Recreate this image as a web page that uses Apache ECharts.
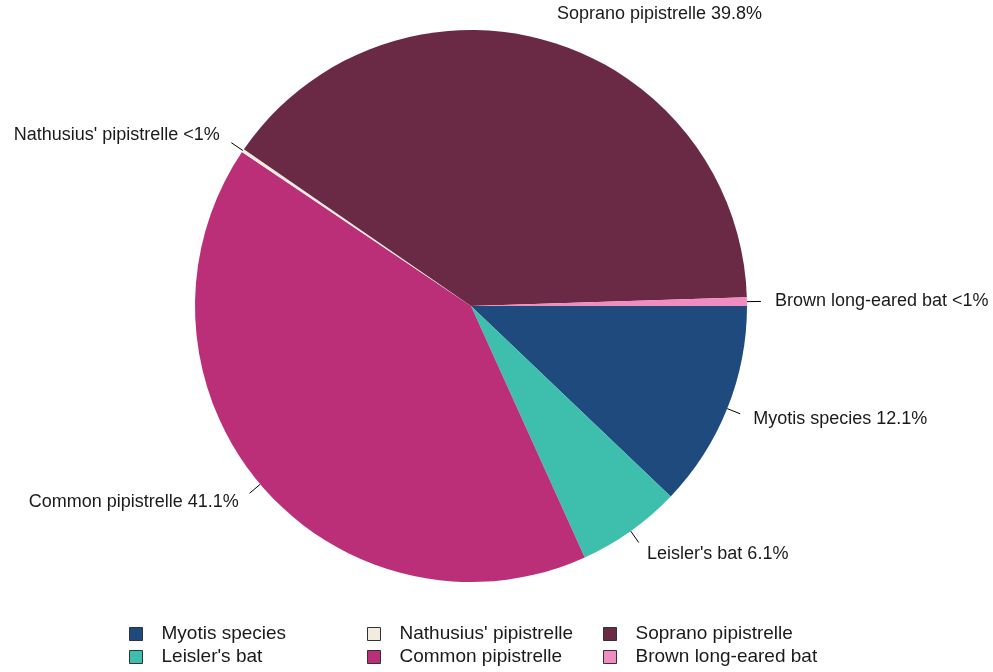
<!DOCTYPE html>
<html>
<head>
<meta charset="utf-8">
<title>Bat species composition</title>
<script src="https://cdn.jsdelivr.net/npm/echarts@6/dist/echarts.min.js"></script>
<style>
  html, body { margin: 0; padding: 0; background: #ffffff; }
  #chart { width: 993px; height: 672px; }
</style>
</head>
<body>
<div id="chart"></div>
<script>
// Species in drawing order (clockwise from 3 o'clock)
const species = [
  "Myotis species",
  "Leisler's bat",
  "Common pipistrelle",
  "Nathusius' pipistrelle",
  "Soprano pipistrelle",
  "Brown long-eared bat"
];
// Share of recorded passes, percent
const shares = [12.1, 6.1, 41.1, 0.2, 39.8, 0.5];
const colours = ["#1f4a7e", "#3ebfae", "#bb2f79", "#f1ecdd", "#6a2a46", "#f08cbf"];

// Legend columns (each read top to bottom)
const legendColumns = [
  ["Myotis species", "Leisler's bat"],
  ["Nathusius' pipistrelle", "Common pipistrelle"],
  ["Soprano pipistrelle", "Brown long-eared bat"]
];

const font = "'Liberation Sans', Arial, sans-serif";
const R = 276;

function pctText(v) {
  return v < 1 ? '<1%' : v.toFixed(1) + '%';
}

const pieData = species.map((name, i) => ({
  name: name,
  value: shares[i],
  itemStyle: { color: colours[i] }
}));

const chart = echarts.init(document.getElementById('chart'), null, { renderer: 'canvas' });

const legendLefts = [129, 367, 603];

chart.setOption({
  backgroundColor: '#ffffff',
  animation: false,
  legend: legendColumns.map((col, i) => ({
    data: col,
    orient: 'vertical',
    left: legendLefts[i],
    top: 623,
    height: 48,
    padding: 0,
    icon: 'rect',
    itemWidth: 13,
    itemHeight: 13,
    itemGap: 1,
    selectedMode: false,
    itemStyle: { borderColor: '#333333', borderWidth: 1 },
    textStyle: {
      fontFamily: font,
      fontSize: 19,
      lineHeight: 22,
      color: '#1a1a1a',
      padding: [0, 0, 0, 14]
    }
  })),
  series: [
    {
      // slices with their labels
      type: 'pie',
      center: [471, 306],
      radius: R,
      startAngle: 0,
      clockwise: true,
      avoidLabelOverlap: false,
      silent: true,
      data: pieData,
      itemStyle: { borderWidth: 0 },
      label: {
        show: true,
        position: 'outside',
        distanceToLabelLine: 0,
        fontFamily: font,
        fontSize: 18,
        color: '#1a1a1a',
        formatter: p => p.name + ' ' + pctText(p.value)
      },
      labelLine: { show: false, length: 28, length2: 0 }
    },
    {
      // short tick marks from the rim toward each label
      type: 'pie',
      center: [471, 306],
      radius: R,
      startAngle: 0,
      clockwise: true,
      avoidLabelOverlap: false,
      silent: true,
      data: species.map((name, i) => ({ name: name, value: shares[i] })),
      itemStyle: { color: 'rgba(0,0,0,0)', borderWidth: 0 },
      label: {
        show: true,
        position: 'outside',
        color: 'rgba(0,0,0,0)',
        fontSize: 10,
        formatter: ' '
      },
      labelLine: {
        show: true,
        length: 14,
        length2: 0,
        lineStyle: { color: '#000000', width: 1 }
      }
    }
  ]
});
</script>
</body>
</html>
